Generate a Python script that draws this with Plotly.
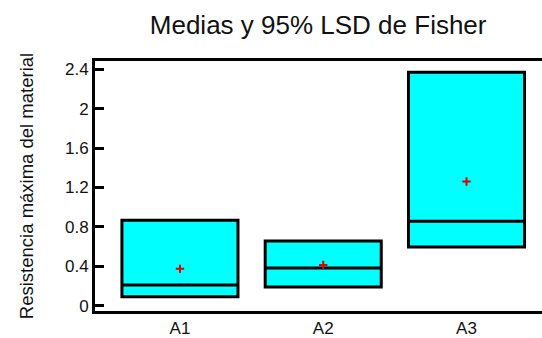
import plotly.graph_objects as go

# Groups and their summary statistics (resistencia máxima)
groups = ["A1", "A2", "A3"]
lower = [0.09, 0.19, 0.595]     # bottom of box
median = [0.21, 0.383, 0.857]   # line inside box
upper = [0.867, 0.655, 2.37]    # top of box
means = [0.373, 0.413, 1.26]    # group mean (red cross)

y_ticks = [0, 0.4, 0.8, 1.2, 1.6, 2.0, 2.4]
y_tick_text = ["0", "0.4", "0.8", "1.2", "1.6", "2", "2.4"]

FONT = "Liberation Sans, Arial, sans-serif"

fig = go.Figure()

fig.add_trace(go.Box(
    x=groups,
    q1=lower,
    median=median,
    q3=upper,
    lowerfence=lower,
    upperfence=upper,
    fillcolor="#00FFFF",
    line=dict(color="black", width=3),
    width=0.81,
    whiskerwidth=0,
    hoverinfo="skip",
    showlegend=False,
))

fig.add_trace(go.Scatter(
    x=groups,
    y=means,
    mode="markers",
    marker=dict(symbol="cross-thin", size=6, line=dict(color="#E00000", width=2)),
    showlegend=False,
    hoverinfo="skip",
))

fig.update_layout(
    width=542,
    height=338,
    margin=dict(l=95, r=0, t=61, b=25),
    paper_bgcolor="white",
    plot_bgcolor="white",
    font=dict(family=FONT, color="#111111"),
    title=dict(
        text="Medias y 95% LSD de Fisher",
        font=dict(family=FONT, size=26, color="#111111"),
        xref="container", x=0.587, xanchor="center",
        yref="container", y=0.925, yanchor="middle",
    ),
    xaxis=dict(
        range=[-0.593, 2.527],
        showline=True, linecolor="black", linewidth=3,
        mirror=True,
        ticks="",
        showgrid=False, zeroline=False,
        tickfont=dict(family=FONT, size=17, color="#111111"),
    ),
    yaxis=dict(
        range=[-0.055, 2.485],
        tickvals=y_ticks, ticktext=y_tick_text,
        showline=True, linecolor="black", linewidth=3,
        ticks="inside", ticklen=9, tickwidth=2.5, tickcolor="black",
        showgrid=False, zeroline=False,
        tickfont=dict(family=FONT, size=17, color="#111111"),
        title=dict(text="Resistencia máxima del material",
                   font=dict(family=FONT, size=18.5, color="#111111"),
                   standoff=27),
    ),
)

fig.write_html("out.html")
